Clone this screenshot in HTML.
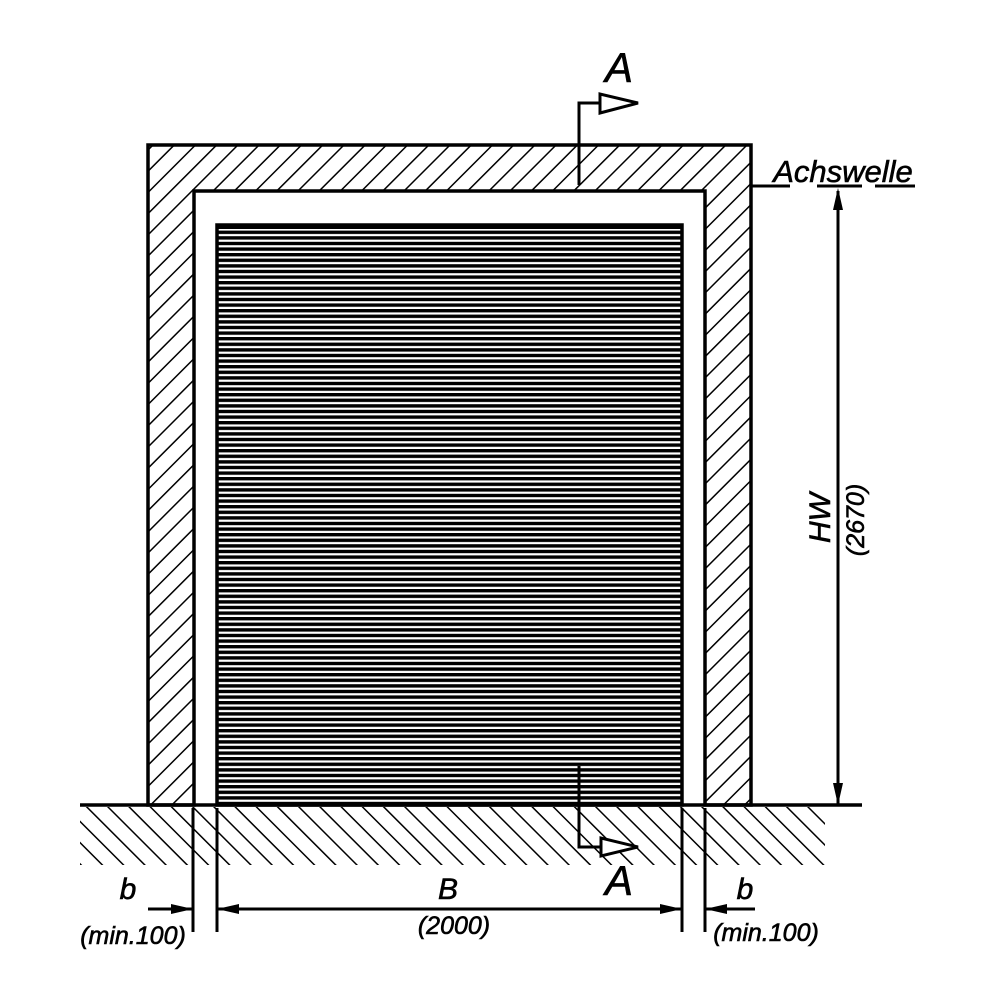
<!DOCTYPE html>
<html><head><meta charset="utf-8"><style>html,body{margin:0;padding:0;background:#fff}svg{display:block}</style></head>
<body>
<svg width="1000" height="1000" viewBox="0 0 1000 1000" xmlns="http://www.w3.org/2000/svg">
<defs>
<pattern id="h1" patternUnits="userSpaceOnUse" width="15" height="15" patternTransform="rotate(45)">
<line x1="0" y1="0" x2="0" y2="15" stroke="#000" stroke-width="3"/>
</pattern>
<pattern id="h2" patternUnits="userSpaceOnUse" width="15" height="15" patternTransform="rotate(-45)">
<line x1="0" y1="0" x2="0" y2="15" stroke="#000" stroke-width="3"/>
</pattern>
<pattern id="sl" patternUnits="userSpaceOnUse" width="10" height="5.6" y="225">
<rect x="0" y="0" width="10" height="3.4" fill="#000"/>
</pattern>
</defs>
<path d="M148,145 H751 V805 H705 V191 H194 V805 H148 Z" fill="url(#h1)" stroke="#000" stroke-width="3.5"/>
<rect x="217" y="225" width="465" height="580" fill="url(#sl)"/>
<rect x="217" y="225" width="465" height="580" fill="none" stroke="#000" stroke-width="3.5"/>
<rect x="217" y="225" width="465" height="4" fill="#000"/>
<rect x="80" y="807" width="745" height="58" fill="url(#h2)"/>
<line x1="80" y1="805" x2="862" y2="805" stroke="#000" stroke-width="3.5"/>
<g stroke="#000" stroke-width="3">
<line x1="193" y1="808" x2="193" y2="932"/>
<line x1="217" y1="808" x2="217" y2="932"/>
<line x1="682" y1="808" x2="682" y2="932"/>
<line x1="705" y1="808" x2="705" y2="932"/>
<line x1="148" y1="909" x2="193" y2="909"/>
<line x1="217" y1="909" x2="682" y2="909"/>
<line x1="705" y1="909" x2="755" y2="909"/>
<line x1="838" y1="191" x2="838" y2="805"/>
<line x1="752" y1="186" x2="790" y2="186"/>
<line x1="817" y1="186" x2="862" y2="186"/>
<line x1="875" y1="186" x2="915" y2="186"/>
</g>
<g fill="#000">
<polygon points="193,909 171,904 171,914"/>
<polygon points="217,909 239,904 239,914"/>
<polygon points="682,909 660,904 660,914"/>
<polygon points="705,909 727,904 727,914"/>
<polygon points="838,188 833,210 843,210"/>
<polygon points="838,805 833,783 843,783"/>
</g>
<g stroke="#000" stroke-width="3" fill="#fff">
<polyline points="579,185 579,103 600,103" fill="none"/>
<polygon points="600,94 600,113 638,103"/>
<polyline points="579,766 579,847 600,847" fill="none"/>
<polygon points="601,838 601,856 638,847"/>
</g>
<g font-family="Liberation Sans, sans-serif" font-style="italic" fill="#000" stroke="#000" stroke-width="0.6" text-anchor="middle">
<text x="619" y="82" font-size="42">A</text>
<text x="619" y="895" font-size="42">A</text>
<text x="843" y="182" font-size="31">Achswelle</text>
<text x="448" y="899" font-size="30">B</text>
<text x="454" y="934" font-size="25">(2000)</text>
<text x="128" y="899" font-size="30">b</text>
<text x="745" y="899" font-size="30">b</text>
<text x="133" y="944" font-size="25">(min.100)</text>
<text x="766" y="941" font-size="25">(min.100)</text>
<text transform="translate(830,518) rotate(-90)" font-size="30">HW</text>
<text transform="translate(864,520) rotate(-90)" font-size="25">(2670)</text>
</g>
</svg>
</body></html>
